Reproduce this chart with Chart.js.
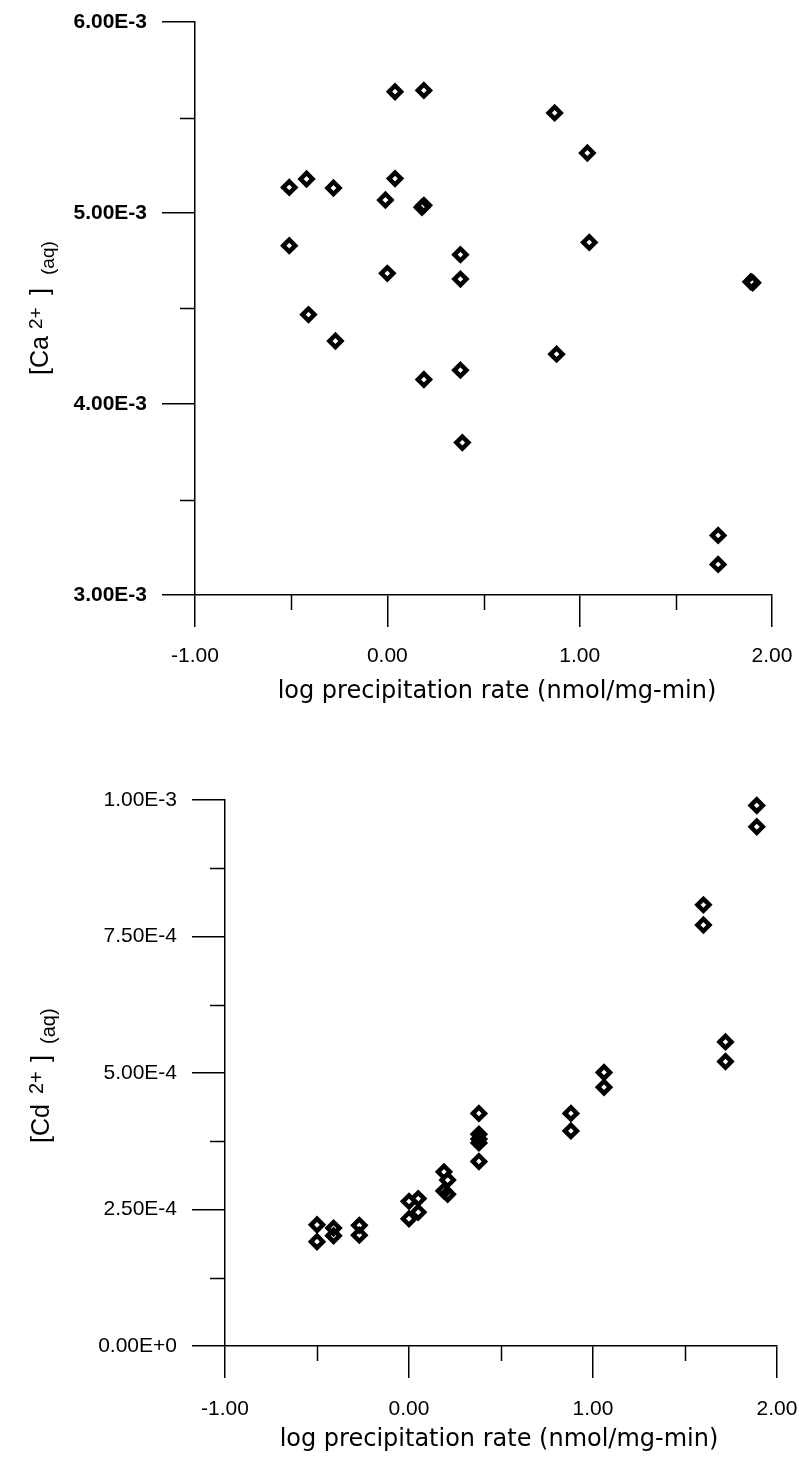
<!DOCTYPE html>
<html>
<head>
<meta charset="utf-8">
<script src="https://cdn.jsdelivr.net/npm/chart.js@4.4.0/dist/chart.umd.min.js"></script>
<style>
  html, body { margin: 0; padding: 0; background: #fff; }
  #wrap { position: relative; width: 799px; height: 1463px; }
  canvas { position: absolute; left: 0; }
  #caChart { top: 0; }
  #cdChart { top: 730px; }
</style>
</head>
<body>
<div id="wrap">
  <canvas id="caChart" width="799" height="730"></canvas>
  <canvas id="cdChart" width="799" height="733"></canvas>
</div>
<script>
// log precipitation rate (x) shared tick labels
var rateTicks = [-1, 0, 1, 2];
var rateTitle = 'log precipitation rate (nmol/mg-min)';

// top panel: [Ca2+](aq)
var caTicks = [3e-3, 4e-3, 5e-3, 6e-3];
var caRate = [0.04, 0.19, 0.87, 1.04, -0.51, -0.42, -0.28, 0.04, -0.01, 0.19, 0.18,
              -0.51, 1.05, 0.38, 0.00, 0.38, 1.89, 1.90, -0.41, -0.27, 0.19, 0.38,
              0.88, 0.39, 1.72, 1.72];
var caConc = [5.635e-3, 5.642e-3, 5.524e-3, 5.314e-3, 5.134e-3, 5.178e-3, 5.131e-3, 5.180e-3,
              5.068e-3, 5.040e-3, 5.030e-3, 4.829e-3, 4.846e-3, 4.782e-3, 4.684e-3, 4.654e-3,
              4.640e-3, 4.635e-3, 4.468e-3, 4.330e-3, 4.128e-3, 4.177e-3, 4.261e-3, 3.798e-3,
              3.312e-3, 3.160e-3];

// bottom panel: [Cd2+](aq)
var cdTicks = [0, 2.5e-4, 5e-4, 7.5e-4, 1e-3];
var cdRate = [1.89, 1.89, 1.60, 1.60, 1.72, 1.72, 1.06, 1.06, 0.88, 0.88,
              0.38, 0.38, 0.38, 0.38, 0.38, 0.19, 0.21, 0.19, 0.21, 0.00,
              0.05, 0.05, 0.00, -0.50, -0.50, -0.41, -0.41, -0.27, -0.27];
var cdConc = [9.90e-4, 9.51e-4, 8.08e-4, 7.71e-4, 5.57e-4, 5.21e-4, 5.01e-4, 4.74e-4, 4.26e-4, 3.94e-4,
              4.26e-4, 3.88e-4, 3.79e-4, 3.72e-4, 3.38e-4, 3.19e-4, 3.04e-4, 2.84e-4, 2.78e-4, 2.65e-4,
              2.70e-4, 2.45e-4, 2.33e-4, 2.22e-4, 1.91e-4, 2.16e-4, 2.02e-4, 2.21e-4, 2.03e-4];

var FONT = "'Liberation Sans', Arial, sans-serif";
var TITLE_FONT = "'DejaVu Sans', sans-serif";
Chart.defaults.font.family = FONT;
Chart.defaults.color = '#000';

function toPoints(xs, ys) {
  return xs.map(function(x, i) { return { x: x, y: ys[i] }; });
}

function midpoints(arr) {
  var out = [];
  for (var i = 1; i < arr.length; i++) out.push((arr[i - 1] + arr[i]) / 2);
  return out;
}

// short unlabelled ticks halfway between the labelled ones
var minorTicks = {
  id: 'minorTicks',
  afterDraw: function(chart, args, opts) {
    var ctx = chart.ctx, xs = chart.scales.x, ys = chart.scales.y;
    ctx.save();
    ctx.strokeStyle = '#000';
    ctx.lineWidth = 1.5;
    ctx.beginPath();
    midpoints(opts.xTicks).forEach(function(v) {
      var px = Math.round(xs.getPixelForValue(v)) + 0.5;
      ctx.moveTo(px, xs.top);
      ctx.lineTo(px, xs.top + opts.len);
    });
    midpoints(opts.yTicks).forEach(function(v) {
      var py = Math.round(ys.getPixelForValue(v)) + 0.5;
      ctx.moveTo(ys.right, py);
      ctx.lineTo(ys.right - opts.len, py);
    });
    ctx.stroke();
    ctx.restore();
  }
};

// axis titles: x title centred at a given point, y title rotated with
// superscript charge and (aq) subscript
var axisTitles = {
  id: 'axisTitles',
  afterDraw: function(chart, args, opts) {
    var ctx = chart.ctx;
    ctx.save();
    ctx.fillStyle = '#000';
    ctx.font = opts.xSize + 'px ' + TITLE_FONT;
    ctx.textAlign = 'center';
    ctx.textBaseline = 'middle';
    ctx.fillText(opts.xText, opts.xAt[0], opts.xAt[1]);

    ctx.translate(opts.yAt[0], opts.yAt[1]);
    ctx.rotate(-Math.PI / 2);
    ctx.textBaseline = 'alphabetic';
    ctx.textAlign = 'left';
    opts.yParts.forEach(function(p) {
      ctx.font = p.size + 'px ' + FONT;
      ctx.fillText(p.text, p.at, p.dy);
    });
    ctx.restore();
  }
};

function buildChart(id, cfg) {
  return new Chart(document.getElementById(id), {
    type: 'scatter',
    data: {
      datasets: [{
        data: cfg.points,
        pointStyle: 'rectRot',
        pointRadius: 6,
        pointBorderWidth: 4.5,
        borderColor: '#000',
        backgroundColor: 'rgba(0,0,0,0)',
        clip: false
      }]
    },
    options: {
      responsive: false,
      animation: false,
      events: [],
      layout: { padding: cfg.pad },
      plugins: {
        legend: { display: false },
        tooltip: { enabled: false },
        minorTicks: { xTicks: rateTicks, yTicks: cfg.yTicks, len: 15 },
        axisTitles: cfg.titles
      },
      scales: {
        x: {
          type: 'linear',
          min: -1, max: 2,
          afterBuildTicks: function(s) { s.ticks = rateTicks.map(function(v) { return { value: v }; }); },
          afterFit: function(s) { s.height = cfg.xHeight; s.paddingLeft = 0; s.paddingRight = 0; },
          grid: { drawOnChartArea: false, drawTicks: true, tickLength: 32, color: '#000', lineWidth: 1.5 },
          border: { display: true, color: '#000', width: 1.5 },
          ticks: {
            color: '#000', font: { size: 21 }, padding: cfg.xTickPad,
            maxRotation: 0, autoSkip: false,
            callback: function(v) { return Number(v).toFixed(2); }
          }
        },
        y: {
          type: 'linear',
          min: cfg.yTicks[0], max: cfg.yTicks[cfg.yTicks.length - 1],
          afterBuildTicks: function(s) { s.ticks = cfg.yTicks.map(function(v) { return { value: v }; }); },
          afterFit: function(s) { s.width = cfg.yWidth; s.paddingTop = 0; s.paddingBottom = 0; },
          grid: { drawOnChartArea: false, drawTicks: true, tickLength: 33, color: '#000', lineWidth: 1.5 },
          border: { display: true, color: '#000', width: 1.5 },
          ticks: {
            color: '#000', font: { size: 21, weight: cfg.yFontWeight }, padding: 15,
            autoSkip: false,
            callback: function(v) { return Number(v).toExponential(2).toUpperCase(); }
          }
        }
      }
    },
    plugins: [minorTicks, axisTitles]
  });
}

buildChart('caChart', {
  points: toPoints(caRate, caConc),
  yTicks: caTicks,
  pad: { top: 22, right: 27, left: 0, bottom: 0 },
  yWidth: 195,
  xHeight: 135,
  xTickPad: 17,
  yFontWeight: 'bold',
  titles: {
    xText: rateTitle, xSize: 24, xAt: [497, 692],
    yAt: [48, 375],
    yParts: [
      { text: '[Ca', size: 25, at: 0, dy: 0 },
      { text: '2+', size: 19, at: 46, dy: -6 },
      { text: ']', size: 25, at: 80, dy: 0 },
      { text: '(aq)', size: 19, at: 100, dy: 6 }
    ]
  }
});

buildChart('cdChart', {
  points: toPoints(cdRate, cdConc),
  yTicks: cdTicks,
  pad: { top: 70, right: 22, left: 0, bottom: 0 },
  yWidth: 225,
  xHeight: 117,
  xTickPad: 19,
  yFontWeight: 'normal',
  titles: {
    xText: rateTitle, xSize: 24, xAt: [499, 710],
    yAt: [49, 413],
    yParts: [
      { text: '[Cd', size: 25, at: 0, dy: 0 },
      { text: '2+', size: 20, at: 49, dy: -6 },
      { text: ']', size: 25, at: 81, dy: 0 },
      { text: '(aq)', size: 20, at: 99, dy: 6 }
    ]
  }
});
</script>
</body>
</html>
